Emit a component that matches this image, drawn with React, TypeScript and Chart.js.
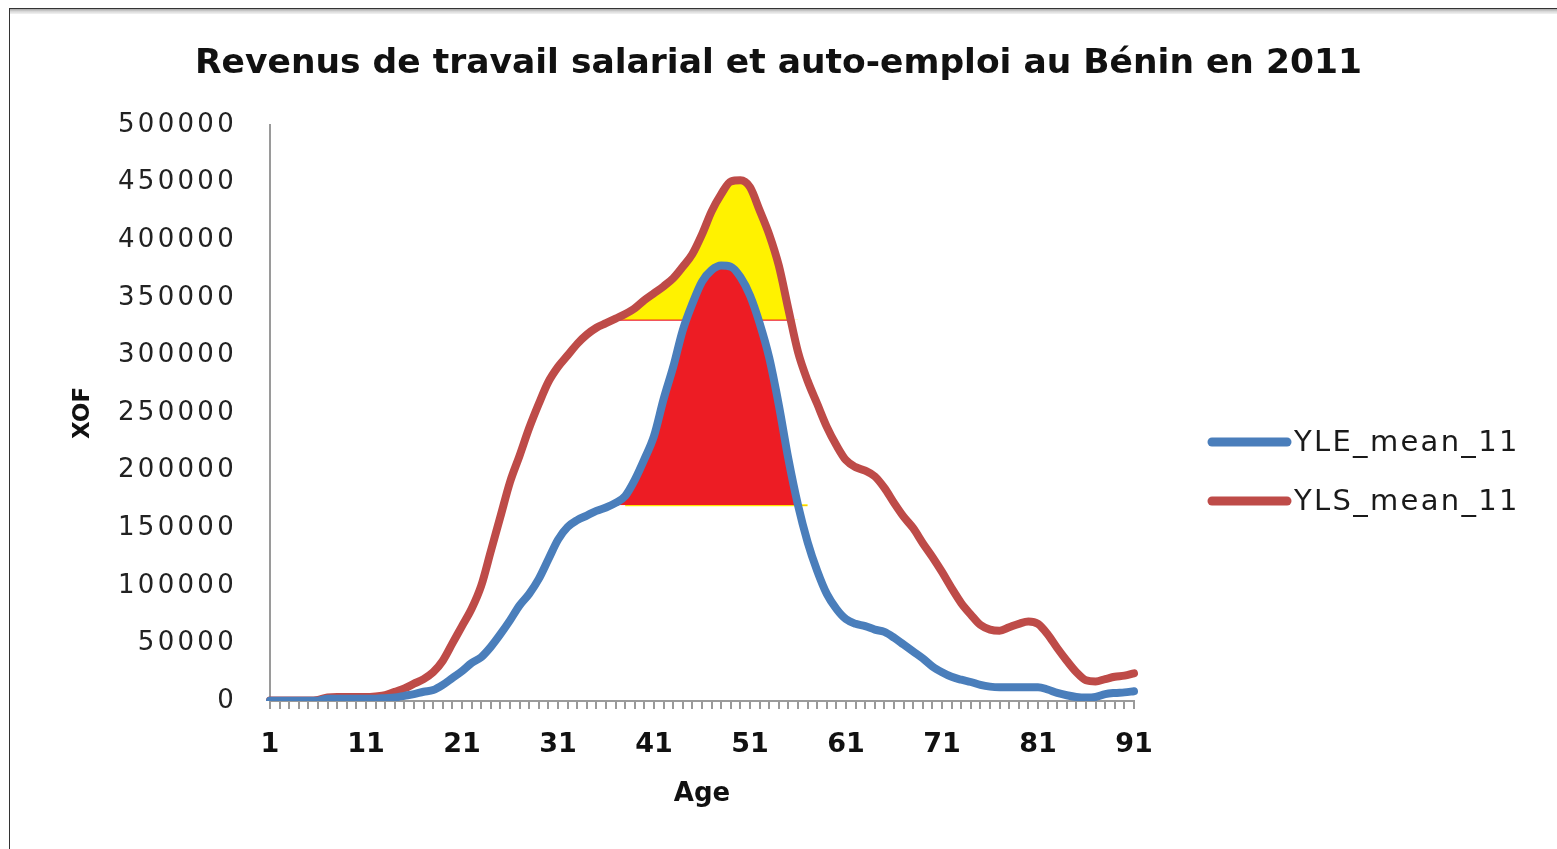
import React, { useEffect, useRef } from 'react';
import { Chart, registerables, LinearScale } from 'chart.js';

Chart.register(...registerables);

// ---------- data ----------
const TITLE = 'Revenus de travail salarial et auto-emploi au Bénin en 2011';
const X_TITLE = 'Age';
const Y_TITLE = 'XOF';

const AGES: number[] = Array.from({ length: 91 }, (_, i) => i + 1);
const X_TICK_LABELS = [1, 11, 21, 31, 41, 51, 61, 71, 81, 91];
const Y_TICKS = [0, 50000, 100000, 150000, 200000, 250000, 300000, 350000, 400000, 450000, 500000];

const YLE_LABEL = 'YLE_mean_11';
const YLS_LABEL = 'YLS_mean_11';

// ages 1..91
const YLE_MEAN_11 = [
  300, 300, 300, 300, 300, 300, 2000, 2000, 2000, 2000,
  2000, 2000, 2500, 3000, 4500, 6000, 8000, 9500, 14000, 20000,
  26000, 33000, 38000, 47000, 58000, 70000, 83000, 93000, 106000, 123000,
  140000, 151000, 157000, 161000, 165000, 168000, 172000, 178000, 192000, 210000,
  230000, 262000, 290000, 322000, 345000, 364000, 374000, 378000, 377000, 368000,
  352000, 328000, 298000, 257000, 210000, 170000, 138000, 113000, 93000, 80000,
  71000, 67000, 65000, 62000, 60000, 55000, 49000, 43000, 37000, 30000,
  25000, 21000, 18500, 16500, 14000, 12500, 12000, 12000, 12000, 12000,
  12000, 10000, 7000, 5000, 3500, 3000, 3500, 6000, 7000, 7500,
  8500,
];

const YLS_MEAN_11 = [
  500, 500, 500, 500, 500, 1000, 3000, 3500, 3500, 3500,
  3500, 4000, 5000, 8000, 11000, 15000, 19000, 25000, 35000, 50000,
  65000, 80000, 100000, 130000, 160000, 190000, 213000, 237000, 258000, 277000,
  290000, 300000, 310000, 318000, 324000, 328000, 332000, 336000, 341000, 348000,
  354000, 360000, 367000, 377000, 388000, 405000, 425000, 440000, 451000, 452000,
  446000, 426000, 405000, 378000, 340000, 303000, 278000, 258000, 238000, 222000,
  209000, 203000, 200000, 195000, 185000, 172000, 160000, 150000, 137000, 125000,
  112000, 98000, 85000, 75000, 66000, 62000, 61000, 64000, 67000, 69000,
  67000, 58000, 46000, 35000, 25000, 18000, 17000, 19000, 21000, 22000,
  24000,
];

// hand-drawn highlight areas
const YELLOW_AREA_BASE = 331000; // yellow area: YLS above this level
const YELLOW_AREA_AGES = [36, 56];
const YELLOW_BASE_LINE_AGES = [37, 55]; // red base line of the yellow area
const RED_AREA_BASE = 170000; // red area: YLE above this level
const RED_AREA_AGES = [36, 57];
const RED_BASE_LINE_AGES = [38, 57]; // yellow base line of the red area

// ---------- styles ----------
const BLUE = '#4A7EBB';
const RED = '#BE4B48';
const FILL_YELLOW = '#FFF200';
const FILL_RED = '#ED1C24';
const AXIS_GREY = '#9a9a9a';
const Y_TICK_LETTER_SPACING = '3.3px';

class SpacedLinearScale extends LinearScale {
  drawLabels(chartArea: any) {
    const ctx = (this as any).ctx;
    ctx.save();
    ctx.letterSpacing = Y_TICK_LETTER_SPACING;
    // @ts-ignore
    super.drawLabels(chartArea);
    ctx.restore();
  }
}
(SpacedLinearScale as any).id = 'spacedLinear';
(SpacedLinearScale as any).defaults = (LinearScale as any).defaults;
Chart.register(SpacedLinearScale as any);

const levelLine = (level: number, range: number[]) =>
  AGES.map((a) => (a >= range[0] && a <= range[1] ? level : null));
const slice = (values: number[], range: number[]) =>
  AGES.map((a, i) => (a >= range[0] && a <= range[1] ? values[i] : null));

const sideLegend = {
  id: 'sideLegend',
  afterDraw(chart: any) {
    const ctx = chart.ctx;
    const area = chart.chartArea;
    const items = chart.data.datasets.filter((d: any) => !String(d.label).startsWith('_'));
    ctx.save();
    items.forEach((ds: any, i: number) => {
      const y = 442 + i * 59;
      const x0 = area.right + 78;
      ctx.strokeStyle = ds.borderColor;
      ctx.lineWidth = 9;
      ctx.lineCap = 'round';
      ctx.beginPath();
      ctx.moveTo(x0, y);
      ctx.lineTo(x0 + 75, y);
      ctx.stroke();
      ctx.font = '29px "DejaVu Sans"';
      ctx.letterSpacing = '2.3px';
      ctx.fillStyle = '#1a1a1a';
      ctx.textBaseline = 'middle';
      ctx.textAlign = 'left';
      ctx.fillText(ds.label, x0 + 82, y + 1);
    });
    ctx.restore();
  },
};

const curve = {
  pointRadius: 0,
  cubicInterpolationMode: 'monotone',
  borderCapStyle: 'round',
  borderJoinStyle: 'round',
};

export default function App() {
  const canvasRef = useRef<HTMLCanvasElement | null>(null);

  useEffect(() => {
    const canvas = canvasRef.current;
    if (!canvas) return;
    const chart = new Chart(canvas, {
      type: 'line',
      data: {
        labels: AGES,
        datasets: [
          {
            ...curve,
            label: YLE_LABEL,
            data: YLE_MEAN_11,
            borderColor: BLUE,
            backgroundColor: BLUE,
            borderWidth: 8,
            fill: false,
            order: 0,
          },
          {
            ...curve,
            label: YLS_LABEL,
            data: YLS_MEAN_11,
            borderColor: RED,
            backgroundColor: RED,
            borderWidth: 8,
            fill: false,
            order: 1,
          },
          {
            ...curve,
            label: '_red_area',
            data: slice(YLE_MEAN_11, RED_AREA_AGES),
            borderWidth: 0,
            borderColor: 'rgba(0,0,0,0)',
            fill: { target: { value: RED_AREA_BASE }, above: FILL_RED, below: 'rgba(0,0,0,0)' },
            spanGaps: false,
            order: 2,
          },
          {
            ...curve,
            label: '_yellow_area',
            data: slice(YLS_MEAN_11, YELLOW_AREA_AGES),
            borderWidth: 0,
            borderColor: 'rgba(0,0,0,0)',
            fill: { target: { value: YELLOW_AREA_BASE }, above: FILL_YELLOW, below: 'rgba(0,0,0,0)' },
            spanGaps: false,
            order: 3,
          },
          {
            label: '_yellow_base',
            data: levelLine(YELLOW_AREA_BASE, YELLOW_BASE_LINE_AGES),
            borderColor: FILL_RED,
            borderWidth: 2,
            pointRadius: 0,
            fill: false,
            spanGaps: false,
            order: 4,
          },
          {
            label: '_red_base',
            data: levelLine(RED_AREA_BASE, RED_BASE_LINE_AGES),
            borderColor: FILL_YELLOW,
            borderWidth: 2,
            pointRadius: 0,
            fill: false,
            spanGaps: false,
            order: 5,
          },
        ],
      } as any,
      options: {
        responsive: false,
        animation: false,
        events: [],
        layout: { padding: { left: 0, right: 0, top: 0, bottom: 0 } },
        plugins: {
          legend: { display: false },
          tooltip: { enabled: false },
          title: {
            display: true,
            text: TITLE,
            color: '#111',
            font: { family: '"DejaVu Sans"', size: 34.5, weight: 'bold', lineHeight: 1.2 },
            padding: { top: 43.3, bottom: 40.3 },
          },
        },
        scales: {
          x: {
            type: 'category',
            offset: false,
            grid: {
              display: true,
              drawOnChartArea: false,
              drawTicks: true,
              tickLength: 8,
              color: AXIS_GREY,
              lineWidth: 2,
            },
            border: { display: true, color: AXIS_GREY, width: 2 },
            ticks: {
              autoSkip: false,
              maxRotation: 0,
              minRotation: 0,
              padding: 20,
              color: '#111',
              font: { family: '"DejaVu Sans"', size: 27, weight: 'bold', lineHeight: 1.2 },
              callback: (_v: any, index: number) =>
                X_TICK_LABELS.includes(AGES[index]) ? String(AGES[index]) : '',
            },
            title: {
              display: true,
              text: X_TITLE,
              color: '#111',
              font: { family: '"DejaVu Sans"', size: 26, weight: 'bold', lineHeight: 1.2 },
              padding: { top: 0, bottom: 39 },
            },
            afterFit: (scale: any) => {
              scale.height = 148;
            },
          },
          y: {
            type: 'spacedLinear' as any,
            min: 0,
            max: 500000,
            grid: { display: true, drawOnChartArea: false, drawTicks: false },
            border: { display: true, color: AXIS_GREY, width: 2 },
            afterBuildTicks: (scale: any) => {
              scale.ticks = Y_TICKS.map((v) => ({ value: v }));
            },
            ticks: {
              padding: 33,
              color: '#222',
              font: { family: '"DejaVu Sans"', size: 26, lineHeight: 1.2 },
              callback: (v: any) => String(v),
            },
            title: {
              display: true,
              text: Y_TITLE,
              color: '#111',
              font: { family: '"DejaVu Sans"', size: 23, weight: 'bold', lineHeight: 1.2 },
              padding: { top: 69, bottom: 0 },
            },
            afterFit: (scale: any) => {
              scale.width = 270;
            },
          } as any,
          legendSpace: {
            type: 'linear',
            position: 'right',
            display: true,
            grid: { display: false, drawTicks: false },
            border: { display: false },
            ticks: { display: false },
            title: { display: false },
            afterFit: (scale: any) => {
              scale.width = 423;
            },
          },
        },
      } as any,
      plugins: [sideLegend],
    });
    return () => chart.destroy();
  }, []);

  return (
    <div
      style={{
        position: 'fixed',
        left: 0,
        top: 0,
        width: 1557,
        height: 849,
        background: '#fff',
        overflow: 'hidden',
      }}
    >
      <canvas
        ref={canvasRef}
        width={1557}
        height={849}
        style={{ position: 'absolute', left: 0, top: 0, width: 1557, height: 849 }}
      />
      <div style={{ position: 'absolute', left: 9, top: 8, right: 0, height: 1, background: '#333' }} />
      <div
        style={{
          position: 'absolute',
          left: 10,
          top: 9,
          right: 0,
          height: 5,
          background: 'linear-gradient(#a8a8a8, #d8d8d8 50%, #f2f2f2)',
        }}
      />
      <div style={{ position: 'absolute', left: 9, top: 8, width: 1, bottom: 0, background: '#333' }} />
    </div>
  );
}
